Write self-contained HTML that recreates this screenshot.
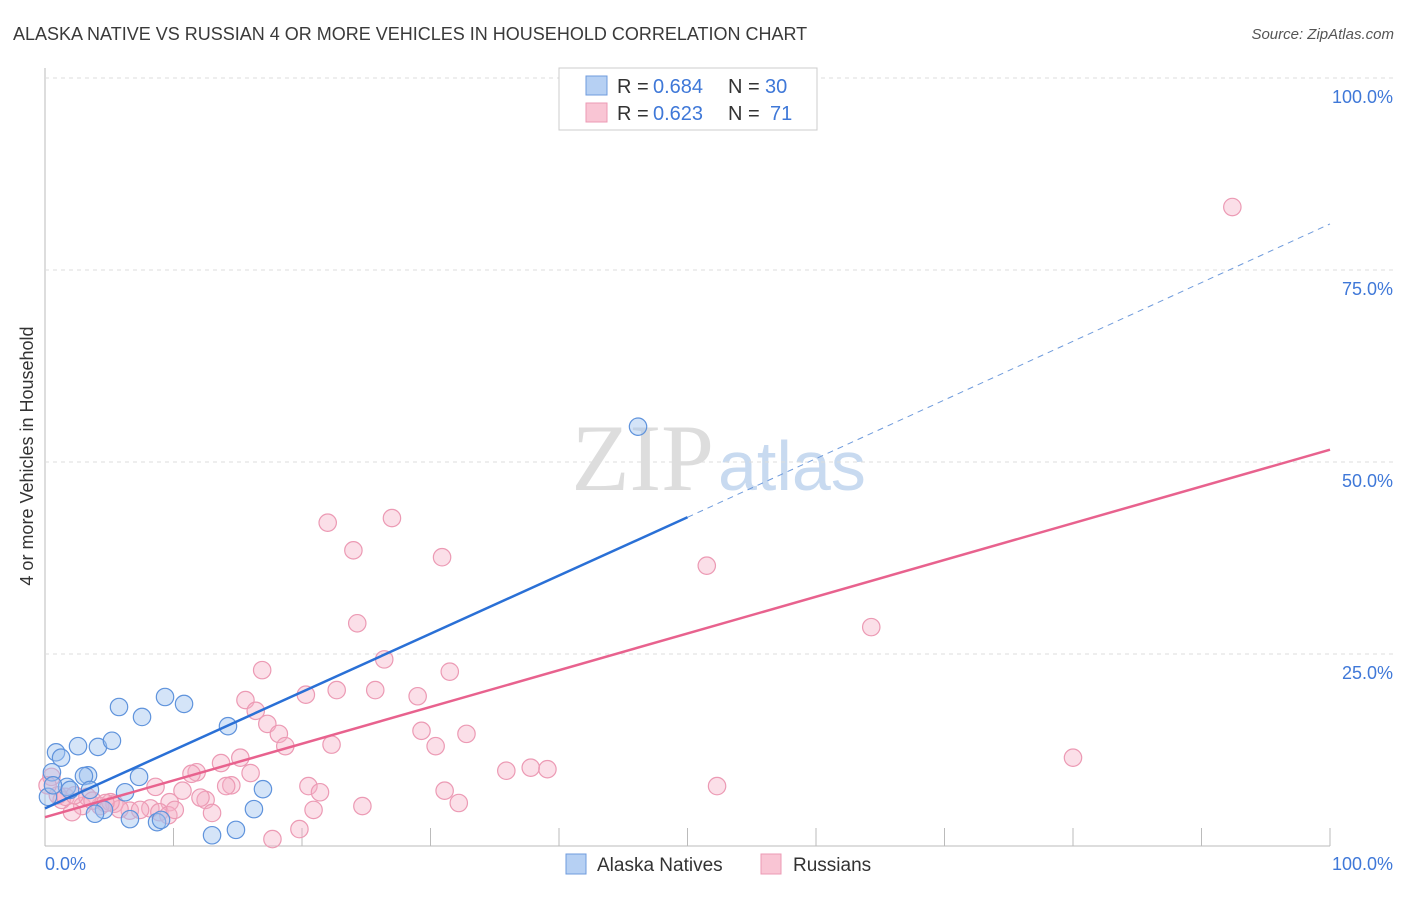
<!DOCTYPE html>
<html><head><meta charset="utf-8"><style>
body{margin:0;background:#fff;font-family:"Liberation Sans",sans-serif}
</style></head><body>
<svg id="c" width="1406" height="892" xmlns="http://www.w3.org/2000/svg">
<text x="13" y="40" font-size="18" fill="#3a3a3a">ALASKA NATIVE VS RUSSIAN 4 OR MORE VEHICLES IN HOUSEHOLD CORRELATION CHART</text>
<text x="1394" y="39" font-size="15" fill="#555" font-style="italic" text-anchor="end">Source: ZipAtlas.com</text>
<text x="33" y="456" font-size="18" fill="#333" text-anchor="middle" transform="rotate(-90 33 456)">4 or more Vehicles in Household</text>
<text x="714" y="490" font-size="95" fill="#ddd" font-family="Liberation Serif,serif" text-anchor="end">ZIP</text>
<text x="718" y="490" font-size="70" fill="#c8daf0">atlas</text>
<g id="grid"></g><g id="marks"></g>
<g>
<rect x="559" y="68" width="258" height="62" fill="#fff" stroke="#ccc"/>
<rect x="586" y="76" width="21" height="19" fill="#b6d0f3" stroke="#6f9bdc"/>
<rect x="586" y="103" width="21" height="19" fill="#f9c5d4" stroke="#ec9ab4"/>
<text x="617" y="93" font-size="20" fill="#333">R =</text>
<text x="653" y="93" font-size="20" fill="#3f78d8">0.684</text>
<text x="728" y="93" font-size="20" fill="#333">N =</text>
<text x="765" y="93" font-size="20" fill="#3f78d8">30</text>
<text x="617" y="120" font-size="20" fill="#333">R =</text>
<text x="653" y="120" font-size="20" fill="#3f78d8">0.623</text>
<text x="728" y="120" font-size="20" fill="#333">N =</text>
<text x="770" y="120" font-size="20" fill="#3f78d8">71</text>
</g>
<g>
<rect x="566" y="854" width="20" height="20" fill="#b6d0f3" stroke="#6f9bdc"/>
<text x="597" y="871" font-size="19" fill="#333">Alaska Natives</text>
<rect x="761" y="854" width="20" height="20" fill="#f9c5d4" stroke="#ec9ab4"/>
<text x="793" y="871" font-size="19" fill="#333">Russians</text>
</g>
</svg>
<script>
const yTicks=[25,50,75,100];
const xTickLabels=["0.0%","100.0%"];
const blueX=[0.86,1.25,0.54,2.57,4.12,5.21,5.76,7.55,9.34,10.82,14.24,3.35,3.03,1.71,1.95,3.5,4.59,3.89,7.32,6.23,6.61,8.72,9.03,13.0,14.86,16.26,16.96,46.15,0.23,0.62];
const blueY=[12.2,11.5,9.6,13.0,12.9,13.7,18.1,16.8,19.4,18.5,15.6,9.2,9.1,7.7,7.3,7.3,4.7,4.2,9.0,7.0,3.5,3.1,3.4,1.4,2.1,4.8,7.4,54.6,6.4,7.9];
const pinkX=[92.4,51.5,64.3,80.0,22.0,27.0,24.0,30.9,24.3,26.4,16.9,31.5,15.6,20.3,22.7,25.7,29.0,16.4,17.3,18.2,18.7,22.3,29.3,30.4,32.8,15.2,16.0,13.7,11.8,11.4,14.5,14.1,20.5,21.4,31.1,32.2,24.7,35.9,37.8,39.1,52.3,17.7,19.8,10.7,12.5,12.1,13.0,8.6,9.7,8.2,6.6,5.4,4.3,2.9,2.1,1.3,1.0,0.5,0.2,3.3,5.8,7.4,8.9,9.6,10.1,20.9,5.1,1.6,3.7,4.7,2.3];
const pinkY=[83.2,36.5,28.5,11.5,42.1,42.7,38.5,37.6,29.0,24.3,22.9,22.7,19.0,19.7,20.3,20.3,19.5,17.6,15.9,14.6,13.0,13.2,15.0,13.0,14.6,11.5,9.5,10.8,9.6,9.4,7.9,7.8,7.8,7.0,7.2,5.6,5.2,9.8,10.2,10.0,7.8,0.9,2.2,7.2,6.0,6.3,4.3,7.7,5.7,4.9,4.6,5.5,5.2,5.2,4.4,6.0,6.6,9.0,7.9,6.4,4.8,4.7,4.4,4.0,4.7,4.7,5.7,6.4,5.9,5.6,6.6];
const blueLine=[4.9,42.8,81.0];
const pinkLine=[3.75,51.6];
const NS="http://www.w3.org/2000/svg";
const X=v=>45+v*12.85, Y=v=>846-v*7.68;
function mk(t,a,p){const e=document.createElementNS(NS,t);for(const k in a)e.setAttribute(k,a[k]);p.appendChild(e);return e;}
const g=document.getElementById('grid'), m=document.getElementById('marks');
const ax=mk('line',{x1:45,y1:68,x2:45,y2:846,stroke:'#bbb'},g);


const bx=mk('line',{x1:45,y1:846,x2:1330,y2:846,stroke:'#bbb'},g);


yTicks.forEach(t=>{
 const l=mk('line',{x1:45,x2:1395,y1:Y(t),y2:Y(t),stroke:'#ddd','stroke-dasharray':'4,4'},g);
 
 
 const tx=mk('text',{x:1393,y:Y(t)+25,'font-size':18,fill:'#3f78d8','text-anchor':'end'},g);
 tx.textContent=t.toFixed(1)+'%';
 
 
});
for(let i=1;i<=10;i++){
 const l=mk('line',{x1:X(i*10),x2:X(i*10),y1:828,y2:846,stroke:'#bbb'},g);
 
 
}
xTickLabels.forEach((s,i)=>{
 const tx=mk('text',{x:i?1393:45,y:870,'font-size':18,fill:'#3f78d8','text-anchor':i?'end':'start'},g);
 tx.textContent=s;
 
 
});
pinkX.forEach((x,i)=>{
 const c=mk('circle',{cx:X(x),cy:Y(pinkY[i]),r:8.7,fill:'rgba(246,175,198,0.4)',stroke:'#ec9ab4','stroke-width':1.2},m);
 
 
});
blueX.forEach((x,i)=>{
 const c=mk('circle',{cx:X(x),cy:Y(blueY[i]),r:8.7,fill:'rgba(160,195,240,0.45)',stroke:'#5f93dc','stroke-width':1.2},m);
 
 
});
const bl=mk('line',{x1:X(0),y1:Y(blueLine[0]),x2:X(50),y2:Y(blueLine[1]),stroke:'#2a70d6','stroke-width':2.5},m);


const bd=mk('line',{x1:X(50),y1:Y(blueLine[1]),x2:X(100),y2:Y(blueLine[2]),stroke:'#6f9bdc','stroke-width':1,'stroke-dasharray':'6,5'},m);


const pl=mk('line',{x1:X(0),y1:Y(pinkLine[0]),x2:X(100),y2:Y(pinkLine[1]),stroke:'#e8628e','stroke-width':2.5},m);


</script>
</body></html>
